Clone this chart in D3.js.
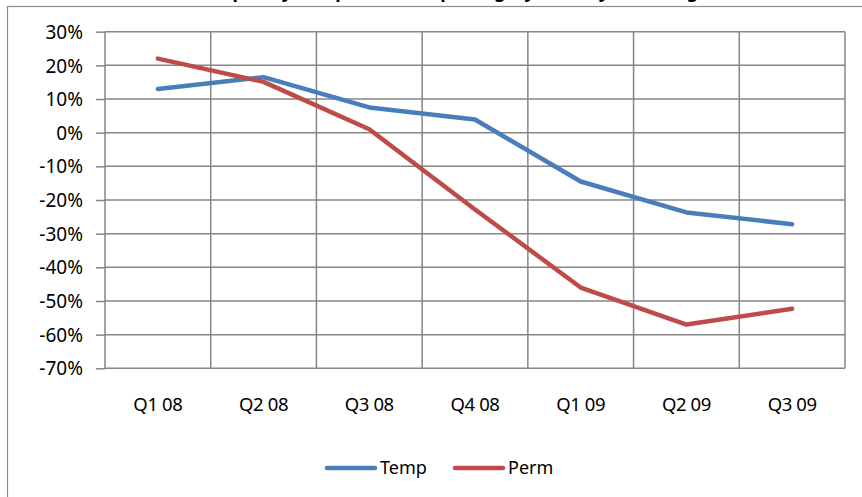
<!DOCTYPE html>
<html>
<head>
<meta charset="utf-8">
<script src="https://cdn.jsdelivr.net/npm/d3@7"></script>
<style>
  html, body { margin: 0; padding: 0; background: #fff; overflow: hidden; }
  svg { display: block; }
  text { font-family: "Noto Sans", "Open Sans", sans-serif; fill: #000; }
</style>
</head>
<body>
<svg id="chart" width="862" height="497"></svg>
<script>
const titleText = "Temporary and permanent placings, year-on-year change";
const categories = ["Q1 08", "Q2 08", "Q3 08", "Q4 08", "Q1 09", "Q2 09", "Q3 09"];
const tempValues = [0.13, 0.165, 0.075, 0.039, -0.145, -0.237, -0.272];
const permValues = [0.22, 0.151, 0.01, -0.228, -0.46, -0.57, -0.523];
const yTicks = [0.3, 0.2, 0.1, 0, -0.1, -0.2, -0.3, -0.4, -0.5, -0.6, -0.7];
const seriesNames = ["Temp", "Perm"];
const seriesColors = ["#4A7EBB", "#BE4B48"];

const svg = d3.select("#chart");
const plot = { left: 105, right: 845, top: 31.7, bottom: 368.3 };

// outer chart border (extends beyond the window on right and bottom)
svg.append("rect")
  .attr("x", 7.5).attr("y", 6.5)
  .attr("width", 900).attr("height", 600)
  .attr("fill", "#fff").attr("stroke", "#8c8c8c").attr("stroke-width", 1.2);

// title, almost entirely above the visible area (only descenders show, as in the reference)
svg.append("text")
  .attr("x", 452).attr("y", -2.5)
  .attr("text-anchor", "middle")
  .style("font-size", "18px").style("font-weight", "bold")
  .text(titleText);

const x = d3.scaleBand().domain(categories).range([plot.left, plot.right]).padding(0);
const y = d3.scaleLinear().domain([-0.7, 0.3]).range([plot.bottom, plot.top]);
const pct = d => Math.round(d * 100) + "%";

// left ticks + labels
const yAxis = d3.axisLeft(y).tickValues(yTicks)
  .tickFormat(pct)
  .tickSize(9).tickPadding(13);
const gy = svg.append("g").attr("transform", `translate(${plot.left},0)`).call(yAxis);
gy.select(".domain").remove();
gy.selectAll(".tick line").attr("stroke", "#868686").attr("stroke-width", 1.5);
gy.selectAll(".tick text").style("font-size", "19px").attr("dy", "0.35em");

// horizontal gridlines
svg.append("g").selectAll("line").data(yTicks).join("line")
  .attr("x1", plot.left).attr("x2", plot.right)
  .attr("y1", d => y(d)).attr("y2", d => y(d))
  .attr("stroke", "#868686").attr("stroke-width", 1.5);

// vertical gridlines at category boundaries
const bounds = categories.map(c => x(c)).concat([x(categories[categories.length - 1]) + x.bandwidth()]);
svg.append("g").selectAll("line").data(bounds).join("line")
  .attr("x1", d => d).attr("x2", d => d)
  .attr("y1", plot.top).attr("y2", plot.bottom)
  .attr("stroke", "#868686").attr("stroke-width", 1.5);

// x axis labels
const xAxis = d3.axisBottom(x).tickSize(0).tickPadding(30);
const gx = svg.append("g").attr("transform", `translate(0,${plot.bottom})`).call(xAxis);
gx.select(".domain").remove();
gx.selectAll(".tick text").style("font-size", "18.5px").style("letter-spacing", "-0.4px");

// lines
const lineGen = d3.line()
  .x((d, i) => x(categories[i]) + x.bandwidth() / 2)
  .y(d => y(d));
[tempValues, permValues].forEach((vals, k) => {
  svg.append("path")
    .datum(vals)
    .attr("d", lineGen)
    .attr("fill", "none")
    .attr("stroke", seriesColors[k])
    .attr("stroke-width", 4.5)
    .attr("stroke-linejoin", "round")
    .attr("stroke-linecap", "round");
});

// legend
const legendItems = [
  { x1: 327, x2: 375, tx: 380 },
  { x1: 455, x2: 503, tx: 508 }
];
const ly = 468;
legendItems.forEach((it, k) => {
  svg.append("line")
    .attr("x1", it.x1).attr("x2", it.x2)
    .attr("y1", ly).attr("y2", ly)
    .attr("stroke", seriesColors[k]).attr("stroke-width", 4.5)
    .attr("stroke-linecap", "round");
  svg.append("text")
    .attr("x", it.tx).attr("y", ly).attr("dy", "0.35em")
    .style("font-size", "18px")
    .text(seriesNames[k]);
});
</script>
</body>
</html>
